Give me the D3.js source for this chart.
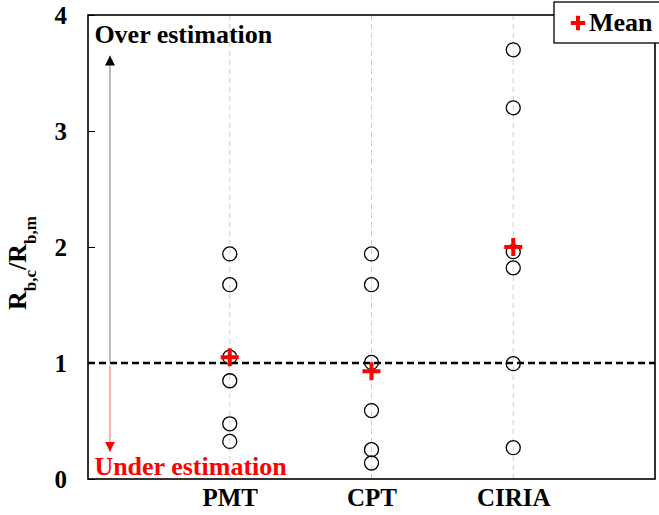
<!DOCTYPE html>
<html lang="en">
<head>
<meta charset="UTF-8" />
<title>Rb,c/Rb,m</title>
<style>
  body { margin: 0; background: #fff; }
</style>
</head>
<body>
<script src="https://cdn.jsdelivr.net/npm/d3@7"></script>
<script>
var categories = ["PMT", "CPT", "CIRIA"];
var pmtValues = [1.94, 1.675, 1.05, 0.847, 0.476, 0.324];
var cptValues = [1.94, 1.675, 1.005, 0.59, 0.253, 0.138];
var ciriaValues = [3.70, 3.20, 1.96, 1.82, 0.994, 0.27];
var meanValues = [1.05, 0.928, 2.0];
var yTicks = [0, 1, 2, 3, 4];

var width = 659, height = 515;
var margin = { top: 15, right: 4, bottom: 36, left: 88 };
var serif = "Liberation Serif";

var svg = d3.select("body").append("svg")
  .attr("width", width)
  .attr("height", height)
  .attr("font-family", serif)
  .attr("font-weight", "bold");

var xScale = d3.scaleLinear().domain([0, 4]).range([margin.left, width - margin.right]);
var yScale = d3.scaleLinear().domain([0, 4]).range([height - margin.bottom, margin.top]);

var series = [pmtValues, cptValues, ciriaValues];

// vertical grid lines at each category
svg.selectAll(".grid")
  .data(categories)
  .enter()
  .append("line")
  .attr("x1", function(d, i) { return xScale(i + 1); })
  .attr("x2", function(d, i) { return xScale(i + 1); })
  .attr("y1", yScale(4))
  .attr("y2", yScale(0))
  .attr("stroke", "#cfcfcf")
  .attr("stroke-width", 1)
  .attr("stroke-dasharray", "5,4");

// y axis (ticks inward)
var yAxis = d3.axisLeft(yScale).tickValues(yTicks).tickSize(-7).tickPadding(21).tickFormat(d3.format("d"));
var gy = svg.append("g")
  .attr("transform", "translate(" + margin.left + ",0)")
  .call(yAxis)
  .attr("font-family", serif)
  .attr("font-size", 25);
gy.select(".domain").remove();
gy.selectAll("line").attr("stroke", "#000").attr("stroke-width", 1);
gy.selectAll("text")
  .attr("dy", "0.35em")
  .attr("fill", "#000");

// x axis labels
var xAxis = d3.axisBottom(xScale).tickValues([1, 2, 3]).tickSize(0).tickPadding(10)
  .tickFormat(function(d) { return categories[d - 1]; });
var gx = svg.append("g")
  .attr("transform", "translate(0," + yScale(0) + ")")
  .call(xAxis)
  .attr("font-family", serif)
  .attr("font-size", 25);
gx.select(".domain").remove();
gx.selectAll("text").attr("dy", "0.71em").attr("y", 9).attr("fill", "#000");

// reference line at 1
svg.append("line")
  .attr("x1", xScale(0))
  .attr("x2", xScale(4))
  .attr("y1", yScale(1))
  .attr("y2", yScale(1))
  .attr("stroke", "#000")
  .attr("stroke-width", 2.5)
  .attr("stroke-dasharray", "7,4");

// arrows
var defs = svg.append("defs");
defs.append("marker").attr("id", "headBlack")
  .attr("viewBox", "0 0 10 10").attr("refX", 10).attr("refY", 5)
  .attr("markerWidth", 10).attr("markerHeight", 10).attr("markerUnits", "userSpaceOnUse")
  .attr("orient", "auto")
  .append("path").attr("d", "M0,0L10,5L0,10Z").attr("fill", "#000");
defs.append("marker").attr("id", "headRed")
  .attr("viewBox", "0 0 10 10").attr("refX", 10).attr("refY", 5)
  .attr("markerWidth", 10).attr("markerHeight", 10).attr("markerUnits", "userSpaceOnUse")
  .attr("orient", "auto")
  .append("path").attr("d", "M0,0L10,5L0,10Z").attr("fill", "#ff0000");

var arrowX = xScale(0.155);
svg.append("line")
  .attr("x1", arrowX).attr("x2", arrowX)
  .attr("y1", yScale(1)).attr("y2", yScale(3.65))
  .attr("stroke", "#777").attr("stroke-width", 1)
  .attr("marker-end", "url(#headBlack)");
svg.append("line")
  .attr("x1", arrowX).attr("x2", arrowX)
  .attr("y1", yScale(0.98)).attr("y2", yScale(0.235))
  .attr("stroke", "#ff6060").attr("stroke-width", 1)
  .attr("marker-end", "url(#headRed)");

svg.append("text")
  .attr("x", xScale(0.045)).attr("y", yScale(3.76))
  .attr("font-size", 26).attr("fill", "#000")
  .text("Over estimation");
svg.append("text")
  .attr("x", xScale(0.045)).attr("y", yScale(0.037))
  .attr("font-size", 26).attr("fill", "#ff0000")
  .text("Under estimation");

// data circles
series.forEach(function(vals, i) {
  svg.selectAll(".pt" + i)
    .data(vals)
    .enter()
    .append("circle")
    .attr("cx", xScale(i + 1))
    .attr("cy", function(d) { return yScale(d); })
    .attr("r", 7)
    .attr("fill", "none")
    .attr("stroke", "#000")
    .attr("stroke-width", 1.3);
});

// mean crosses
var crossPath = "M-9,0H9M0,-9V9";
svg.selectAll(".mean")
  .data(meanValues)
  .enter()
  .append("path")
  .attr("d", crossPath)
  .attr("transform", function(d, i) { return "translate(" + xScale(i + 1) + "," + yScale(d) + ")"; })
  .attr("stroke", "#ff0000")
  .attr("stroke-width", 4)
  .attr("fill", "none");

// plot frame
svg.append("rect")
  .attr("x", xScale(0)).attr("y", yScale(4))
  .attr("width", xScale(4) - xScale(0))
  .attr("height", yScale(0) - yScale(4))
  .attr("fill", "none").attr("stroke", "#000").attr("stroke-width", 1.6);

// legend
var lg = svg.append("g");
lg.append("rect")
  .attr("x", 554).attr("y", 2).attr("width", 110).attr("height", 41)
  .attr("fill", "#fff").attr("stroke", "#000").attr("stroke-width", 1.3);
lg.append("path")
  .attr("d", crossPath)
  .attr("transform", "translate(578,23) scale(0.8)")
  .attr("stroke", "#ff0000").attr("stroke-width", 5);
lg.append("text")
  .attr("x", 589).attr("y", 31)
  .attr("font-size", 26).attr("fill", "#000")
  .text("Mean");

// y label
svg.append("text")
  .attr("transform", "translate(26,263) rotate(-90)")
  .attr("text-anchor", "middle")
  .attr("font-size", 26)
  .attr("fill", "#000")
  .html('R<tspan baseline-shift="sub" font-size="17">b,c</tspan>/R<tspan baseline-shift="sub" font-size="17">b,m</tspan>');
</script>
</body>
</html>
